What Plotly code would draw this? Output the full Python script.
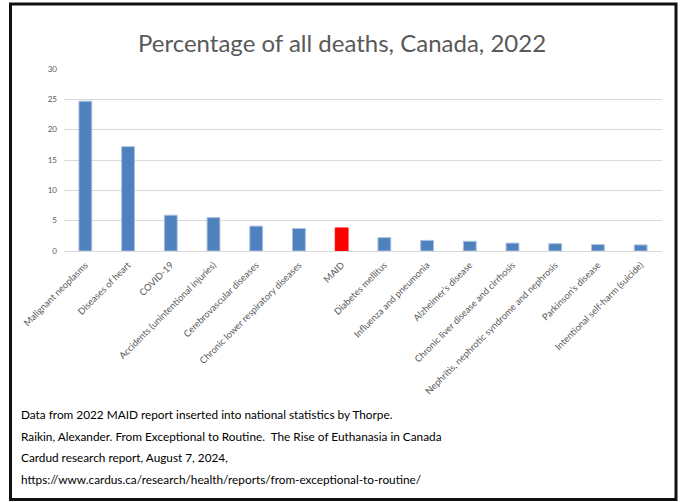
import plotly.graph_objects as go

categories = [
    "Malignant neoplasms",
    "Diseases of heart",
    "COVID-19",
    "Accidents (unintentional injuries)",
    "Cerebrovascular diseases",
    "Chronic lower respiratory diseases",
    "MAID",
    "Diabetes mellitus",
    "Influenza and pneumonia",
    "Alzheimer’s disease",
    "Chronic liver disease and cirrhosis",
    "Nephritis, nephrotic syndrome and nephrosis",
    "Parkinson’s disease",
    "Intentional self-harm (suicide)",
]
values = [24.7, 17.2, 5.9, 5.5, 4.1, 3.7, 3.8, 2.2, 1.75, 1.6, 1.3, 1.2, 1.05, 1.0]
highlight = "MAID"
y_ticks = [0, 5, 10, 15, 20, 25, 30]

title_text = "Percentage of all deaths, Canada, 2022"
footer_lines = [
    "Data from 2022 MAID report inserted into national statistics by Thorpe.",
    "Raikin, Alexander. From Exceptional to Routine.  The Rise of Euthanasia in Canada",
    "Cardud research report, August 7, 2024,",
    "https://www.cardus.ca/research/health/reports/from-exceptional-to-routine/",
]

W, H = 683, 502
L, R, T, B = 64, 662, 69, 251


def px(x):
    return (x - L) / (R - L)


def py(y):
    return (B - y) / (B - T)


colors = ["#FF0000" if c == highlight else "#4F81BD" for c in categories]
line_colors = ["#FF0000" if c == highlight else "#A7C0E0" for c in categories]

fig = go.Figure(
    go.Bar(
        x=categories,
        y=values,
        marker=dict(color=colors, line=dict(color=line_colors, width=1)),
        width=0.3,
    )
)

font_main = "Lato, Calibri, Carlito, sans-serif"

annotations = [
    dict(
        text=title_text, x=px(341.5), y=py(42), xref="paper", yref="paper",
        showarrow=False, xanchor="center", yanchor="middle",
        font=dict(family=font_main, size=24, color="#595959"),
    )
]
for i, (line, yy) in enumerate(zip(footer_lines, [414, 436, 457, 479])):
    annotations.append(
        dict(
            text=line, x=px(19), y=py(yy), xref="paper", yref="paper",
            showarrow=False, xanchor="left", yanchor="middle",
            font=dict(family=font_main, size=11.8, color="#000000"),
        )
    )

shapes = [
    dict(type="rect", xref="paper", yref="paper",
         x0=px(10.5), x1=px(676), y0=py(4), y1=py(499.5),
         line=dict(color="#111111", width=3), layer="below"),
]

fig.update_layout(
    width=W, height=H,
    margin=dict(l=L, r=W - R, t=T, b=H - B),
    paper_bgcolor="white", plot_bgcolor="white",
    showlegend=False,
    annotations=annotations,
    shapes=shapes,
    bargap=0.7,
)
fig.update_xaxes(
    tickangle=-45,
    tickfont=dict(family=font_main, size=9.3, color="#595959"),
    showgrid=False, showline=True, linecolor="#D9D9D9", linewidth=1,
    ticks="", ticklabelstandoff=4, fixedrange=True,
)
fig.update_yaxes(
    range=[0, 30], tickvals=y_ticks,
    tickfont=dict(family=font_main, size=8, color="#595959"),
    showgrid=True, gridcolor="#D9D9D9", gridwidth=1,
    zeroline=False, showline=False, ticks="", ticklabelstandoff=6,
    fixedrange=True,
)

fig.write_html("out.html", config={"displayModeBar": False})
